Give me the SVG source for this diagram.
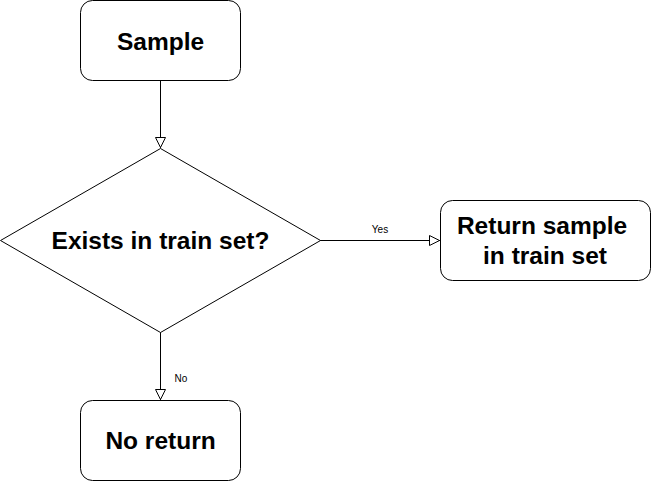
<svg xmlns="http://www.w3.org/2000/svg" width="651" height="481" viewBox="0 0 651 481">
<style>
.box{fill:#fff;stroke:#000;stroke-width:1}
.t{font-family:"Liberation Sans",Arial,sans-serif;font-weight:bold;font-size:24.5px;fill:#000;text-anchor:middle}
.lbl{font-family:"Liberation Sans",Arial,sans-serif;font-size:10px;fill:#000;text-anchor:middle}
.edge{fill:none;stroke:#000;stroke-width:1}
</style>
<defs>
<marker id="arr" viewBox="0 0 12 12" refX="11.5" refY="6" markerWidth="12" markerHeight="12" markerUnits="userSpaceOnUse" orient="auto">
<path d="M1,1 L11,6 L1,11 Z" fill="#fff" stroke="#000" stroke-width="1"/>
</marker>
</defs>
<rect width="651" height="481" fill="#fff"/>
<g id="edges">
<path class="edge" d="M160.5,80.5 V148" marker-end="url(#arr)"/>
<path class="edge" d="M320,240.5 H440" marker-end="url(#arr)"/>
<text class="lbl" x="380" y="233">Yes</text>
<path class="edge" d="M160.5,332 V400" marker-end="url(#arr)"/>
<text class="lbl" x="181" y="382">No</text>
</g>
<g id="sample">
<rect class="box" x="80.5" y="0.5" width="160" height="80" rx="12"/>
<text class="t" x="160.5" y="50">Sample</text>
</g>
<g id="exists">
<path class="box" d="M160.5,148.5 L320.5,240.5 L160.5,332.5 L0.5,240.5 Z"/>
<text class="t" x="160.5" y="249">Exists in train set?</text>
</g>
<g id="return">
<rect class="box" x="440.5" y="200.5" width="210" height="80" rx="12"/>
<text class="t" x="542" y="234">Return sample</text>
<text class="t" x="545" y="264">in train set</text>
</g>
<g id="noreturn">
<rect class="box" x="80.5" y="400.5" width="160" height="80" rx="12"/>
<text class="t" x="160.5" y="449">No return</text>
</g>
</svg>
